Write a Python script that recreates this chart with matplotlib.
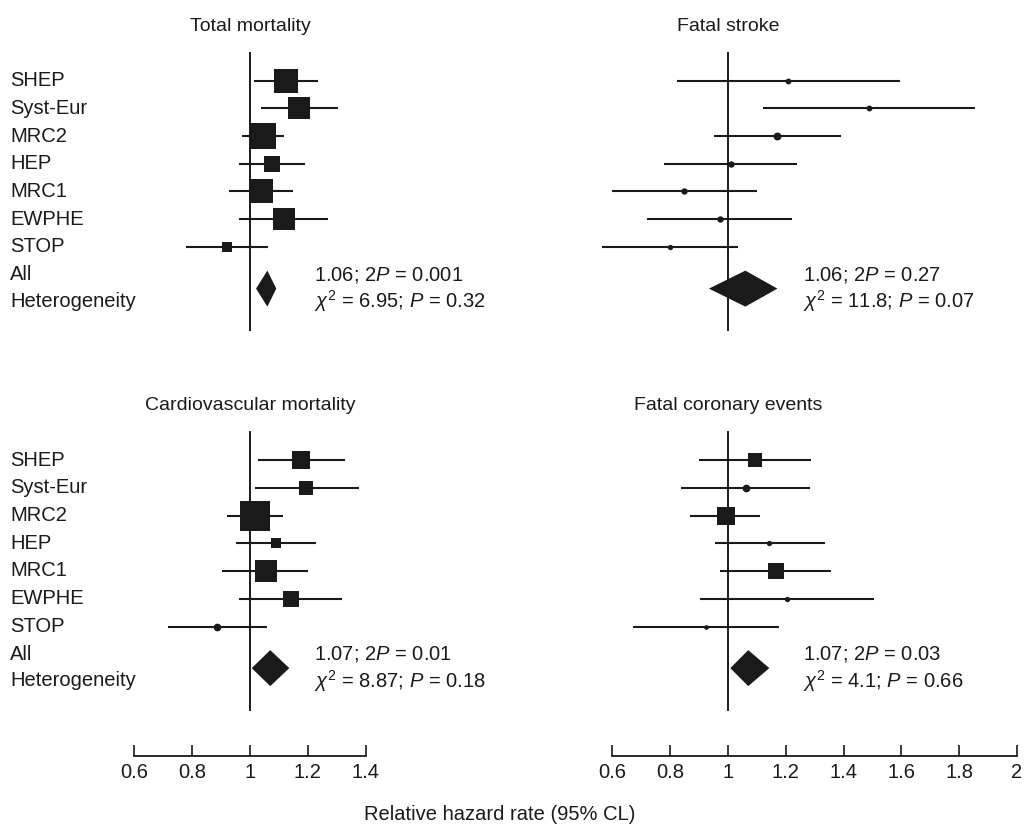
import matplotlib
matplotlib.use("Agg")
import matplotlib.pyplot as plt
from matplotlib.patches import Polygon
from matplotlib.transforms import blended_transform_factory
import numpy as np

plt.rcParams['font.family'] = ['Liberation Sans', 'DejaVu Sans']
plt.rcParams['mathtext.fontset'] = 'custom'
plt.rcParams['mathtext.rm'] = 'Liberation Sans'
plt.rcParams['mathtext.it'] = 'Liberation Sans:italic'

# data
trials = ["SHEP", "Syst-Eur", "MRC2", "HEP", "MRC1", "EWPHE", "STOP"]

tm_est = [1.125, 1.169, 1.044, 1.075, 1.037, 1.117, 0.920]
tm_lo = [1.015, 1.038, 0.972, 0.961, 0.926, 0.963, 0.779]
tm_hi = [1.236, 1.303, 1.117, 1.190, 1.148, 1.269, 1.061]
tm_weight = [17.2, 15.7, 21.7, 9.1, 18.3, 15.7, 3.6]
tm_all = [1.021, 1.06, 1.091]
tm_stats = ["1.06; 2$P$ = 0.001", "$\\chi^2$ = 6.95; $P$ = 0.32"]

fs_est = [1.209, 1.488, 1.171, 1.009, 0.847, 0.971, 0.798]
fs_lo = [0.825, 1.122, 0.952, 0.779, 0.597, 0.721, 0.563]
fs_hi = [1.595, 1.854, 1.390, 1.240, 1.102, 1.220, 1.035]
fs_weight = [1.1, 1.1, 2.0, 1.3, 1.3, 1.3, 0.9]
fs_all = [0.934, 1.06, 1.171]
fs_stats = ["1.06; 2$P$ = 0.27", "$\\chi^2$ = 11.8; $P$ = 0.07"]

cv_est = [1.177, 1.195, 1.018, 1.091, 1.054, 1.141, 0.886]
cv_lo = [1.029, 1.017, 0.919, 0.950, 0.904, 0.963, 0.717]
cv_hi = [1.327, 1.377, 1.115, 1.230, 1.201, 1.317, 1.058]
cv_weight = [10.7, 7.0, 28.5, 2.9, 15.7, 8.0, 1.9]
cv_all = [1.006, 1.07, 1.136]
cv_stats = ["1.07; 2$P$ = 0.01", "$\\chi^2$ = 8.87; $P$ = 0.18"]

fc_est = [1.093, 1.061, 0.992, 1.143, 1.167, 1.205, 0.925]
fc_lo = [0.898, 0.839, 0.870, 0.955, 0.971, 0.903, 0.672]
fc_hi = [1.287, 1.284, 1.110, 1.334, 1.357, 1.506, 1.177]
fc_weight = [5.4, 1.9, 11.5, 0.9, 8.8, 0.9, 0.7]
fc_all = [1.008, 1.07, 1.143]
fc_stats = ["1.07; 2$P$ = 0.03", "$\\chi^2$ = 4.1; $P$ = 0.66"]

left_ticks = [0.6, 0.8, 1, 1.2, 1.4]
right_ticks = [0.6, 0.8, 1, 1.2, 1.4, 1.6, 1.8, 2]

W, H = 1029, 825
ROW = 27.75          # px between trial rows
PX_UNIT = 289        # px per unit of hazard ratio
INK = "#1a1a1a"
FS = 14.5

fig = plt.figure(figsize=(W / 100, H / 100), dpi=100)


def px_axes(left, top, right, bottom):
    return fig.add_axes([left / W, 1 - bottom / H, (right - left) / W, (bottom - top) / H])


def panel(x_one, x_left, x_right, row0, title, est, lo, hi, weight, pooled, stats, labels, stat_x):
    ax = px_axes(x_left, row0 - 2.8 * ROW, x_right, row0 + 10 * ROW)
    ax.set_xlim(1 - (x_one - x_left) / PX_UNIT, 1 + (x_right - x_one) / PX_UNIT)
    ax.set_ylim(10, -2.8)
    ax.axis("off")

    ax.plot([1, 1], [-1, 9], color=INK, lw=1.4)
    rows = np.arange(len(est))
    for r in rows:
        ax.plot([lo[r], hi[r]], [r, r], color=INK, lw=1.5, solid_capstyle="butt")
        # box area follows the trial weight
        size_px = 5.6 * np.sqrt(weight[r])
        marker = "o" if weight[r] < 2.05 else "s"
        ax.plot(est[r], r, marker=marker, ms=size_px * 0.72, color=INK, mew=0)

    # pooled estimate
    yd, hd = 7.5, 18 / ROW
    dlo, dest, dhi = pooled
    ax.add_patch(Polygon([(dlo, yd), (dest, yd - hd), (dhi, yd), (dest, yd + hd)],
                         closed=True, color=INK, lw=0))

    ax.text(1, -1.95, title, ha="center", va="center", fontsize=14, color=INK)
    ax.text(stat_x, 7.0, stats[0], ha="left", va="center", fontsize=FS, color=INK)
    ax.text(stat_x, 7.95, stats[1], ha="left", va="center", fontsize=FS, color=INK)

    if labels:
        tr = blended_transform_factory(fig.transFigure, ax.transData)
        for r, name in enumerate(trials):
            ax.text(10 / W, r, name, transform=tr, ha="left", va="center", fontsize=FS, color=INK)
        ax.text(10 / W, 7.0, "All", transform=tr, ha="left", va="center", fontsize=FS, color=INK)
        ax.text(10 / W, 7.95, "Heterogeneity", transform=tr, ha="left", va="center", fontsize=FS, color=INK)
    return ax


def scale_axis(x_one, x_left, x_right, ticks):
    ax = px_axes(x_left, 736, x_right, 756)
    ax.set_xlim(1 - (x_one - x_left) / PX_UNIT, 1 + (x_right - x_one) / PX_UNIT)
    for side in ["top", "left", "right"]:
        ax.spines[side].set_visible(False)
    ax.spines["bottom"].set_bounds(ticks[0], ticks[-1])
    ax.spines["bottom"].set_linewidth(1.3)
    ax.spines["bottom"].set_color(INK)
    ax.set_yticks([])
    ax.set_xticks(ticks)
    ax.set_xticklabels([f"{t:g}" for t in ticks])
    ax.tick_params(axis="x", direction="in", length=8, width=1.2,
                   pad=5, labelsize=FS, colors=INK)
    ax.patch.set_visible(False)
    return ax


panel(250, 0, 515, 80.5, "Total mortality", tm_est, tm_lo, tm_hi, tm_weight, tm_all, tm_stats, True, 1.221)
panel(728, 515, 1029, 80.5, "Fatal stroke", fs_est, fs_lo, fs_hi, fs_weight, fs_all, fs_stats, False, 1.26)
panel(250, 0, 515, 460, "Cardiovascular mortality", cv_est, cv_lo, cv_hi, cv_weight, cv_all, cv_stats, True, 1.221)
panel(728, 515, 1029, 460, "Fatal coronary events", fc_est, fc_lo, fc_hi, fc_weight, fc_all, fc_stats, False, 1.26)

scale_axis(250, 0, 515, left_ticks)
scale_axis(728, 515, 1029, right_ticks)

fig.text(499.5 / W, 1 - 815 / H, "Relative hazard rate (95% CL)", ha="center", va="center",
         fontsize=FS, color=INK)

fig.savefig("out.png", dpi=100)
